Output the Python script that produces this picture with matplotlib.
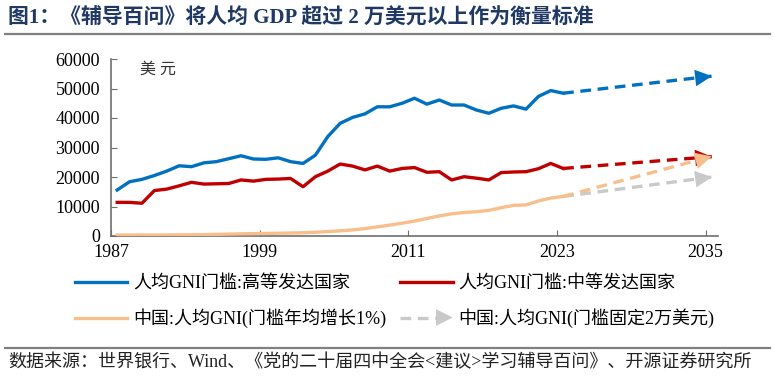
import matplotlib
matplotlib.use('Agg')
import numpy as np
import matplotlib.pyplot as plt
from matplotlib.lines import Line2D
from matplotlib.patches import FancyArrowPatch
from matplotlib.legend_handler import HandlerBase

plt.rcParams['font.family'] = ['Liberation Serif', 'Noto Sans CJK SC']

# 数据 (美元)
years = np.arange(1987, 2024)
high = [15600, 18400, 19200, 20500, 22000, 23800, 23500, 24800, 25200, 26200,
        27200, 26100, 26000, 26500, 25200, 24600, 27400, 33700, 38200, 40200,
        41400, 43800, 43800, 45000, 46700, 44700, 46100, 44400, 44400, 42700,
        41600, 43300, 44100, 43000, 47300, 49300, 48400]
mid = [11400, 11400, 11100, 15400, 15900, 17000, 18200, 17600, 17700, 17800,
       19000, 18600, 19200, 19300, 19500, 16700, 20100, 22000, 24400, 23700,
       22400, 23700, 22000, 22900, 23200, 21600, 21800, 19000, 20100, 19600,
       19000, 21500, 21700, 21800, 22800, 24600, 22900]
china = [320, 340, 350, 330, 350, 390, 410, 460, 540, 650,
         750, 800, 860, 940, 1010, 1100, 1270, 1500, 1760, 2060,
         2510, 3100, 3690, 4340, 5060, 5940, 6800, 7520, 7950, 8250,
         8690, 9600, 10390, 10530, 11880, 12850, 13400]

proj_year = 2035
high_2035 = 54200
mid_2035 = 26900
china_2035_grow = 27000
china_2035_fixed = 20000

labels = ['人均GNI门槛:高等发达国家', '人均GNI门槛:中等发达国家',
          '中国:人均GNI(门槛年均增长1%)', '中国:人均GNI(门槛固定2万美元)']
xticks = [1987, 1999, 2011, 2023, 2035]

c_blue = '#0070C0'
c_red = '#C00000'
c_orange = '#F8BF8C'
c_gray = '#C9C9C9'
axis_c = '#6E6E6E'
lw = 2.4
dash = (3.2, 2.0)


def proj(ax, y0, y1, color, zorder=3):
    # 虚线延伸 + 箭头
    xs = [years[-1] + 0.5, proj_year + 0.5]
    ax.plot(xs, [y0, y1], color=color, lw=lw, ls=(0, dash), zorder=zorder)
    ax.annotate('', xy=(xs[1], y1), xytext=(xs[0], y0),
                arrowprops=dict(arrowstyle='-|>,head_length=0.4,head_width=0.2',
                                color=color, lw=0, mutation_scale=30,
                                shrinkA=0, shrinkB=0), zorder=zorder + 1)


class ArrowHandler(HandlerBase):
    def create_artists(self, legend, orig_handle, xdescent, ydescent,
                       width, height, fontsize, trans):
        y = height / 2 - ydescent
        x0 = -xdescent
        x1 = width - xdescent
        line = Line2D([x0, x1 - 8], [y, y], color=orig_handle.get_color(),
                      lw=lw, ls=(0, dash), transform=trans)
        head = FancyArrowPatch((x1 - 14, y), (x1, y),
                               arrowstyle='-|>,head_length=0.4,head_width=0.2',
                               mutation_scale=30, color=orig_handle.get_color(),
                               lw=0, shrinkA=0, shrinkB=0, transform=trans)
        return [line, head]


fig = plt.figure(figsize=(7.74, 3.78), dpi=100)
ax = fig.add_axes([111 / 774, 1 - 236 / 378, (718 - 111) / 774, (236 - 59) / 378])

x = years + 0.5
l_gray = Line2D([], [], color=c_gray, lw=lw)
proj(ax, china[-1], china_2035_fixed, c_gray, zorder=2)
proj(ax, china[-1], china_2035_grow, c_orange, zorder=3)
proj(ax, mid[-1], mid_2035, c_red, zorder=2)
proj(ax, high[-1], high_2035, c_blue, zorder=3)
l_blue, = ax.plot(x, high, color=c_blue, lw=lw, zorder=5)
l_red, = ax.plot(x, mid, color=c_red, lw=lw, zorder=5)
l_orange, = ax.plot(x, china, color=c_orange, lw=lw, zorder=5)

ax.set_xlim(1987, 2036)
ax.set_ylim(0, 60000)
ax.set_xticks(xticks)
ax.set_yticks(range(0, 60001, 10000))
for s in ['top', 'right']:
    ax.spines[s].set_visible(False)
for s in ['left', 'bottom']:
    ax.spines[s].set_color(axis_c)
    ax.spines[s].set_linewidth(1.2)
ax.tick_params(axis='both', direction='in', length=4, color=axis_c,
               labelsize=13, pad=6)
ax.tick_params(axis='y', pad=8)
ax.text(0.048, 0.985, '美 元', transform=ax.transAxes, fontsize=11.5,
        va='top', ha='left', color='#333333')

# ncol=2 按列填充, 所以顺序是 蓝, 橙, 红, 灰
fig.legend([l_blue, l_orange, l_red, l_gray],
           [labels[0], labels[2], labels[1], labels[3]], ncol=2,
           loc='upper left', bbox_to_anchor=(75 / 774, 1 - 275 / 378),
           frameon=False, fontsize=13, handlelength=2.9, handletextpad=0.3,
           columnspacing=0.8, labelspacing=0.9, borderpad=0, borderaxespad=0,
           handler_map={l_gray: ArrowHandler()})

fig.text(8 / 774, 1 - 18 / 378, '图1：《辅导百问》将人均 GDP 超过 2 万美元以上作为衡量标准',
         fontsize=15, fontweight='bold', color='#1F3864', va='center', ha='left')
fig.add_artist(Line2D([5 / 774, 770 / 774], [1 - 34 / 378, 1 - 34 / 378],
                      color='#808080', lw=1.6, transform=fig.transFigure))
fig.add_artist(Line2D([5 / 774, 770 / 774], [1 - 348 / 378, 1 - 348 / 378],
                      color='#808080', lw=1.6, transform=fig.transFigure))
fig.text(8 / 774, 1 - 363 / 378,
         '数据来源：世界银行、Wind、《党的二十届四中全会<建议>学习辅导百问》、开源证券研究所',
         fontsize=13, color='#222222', va='center', ha='left')

fig.savefig('out.png', dpi=100)
